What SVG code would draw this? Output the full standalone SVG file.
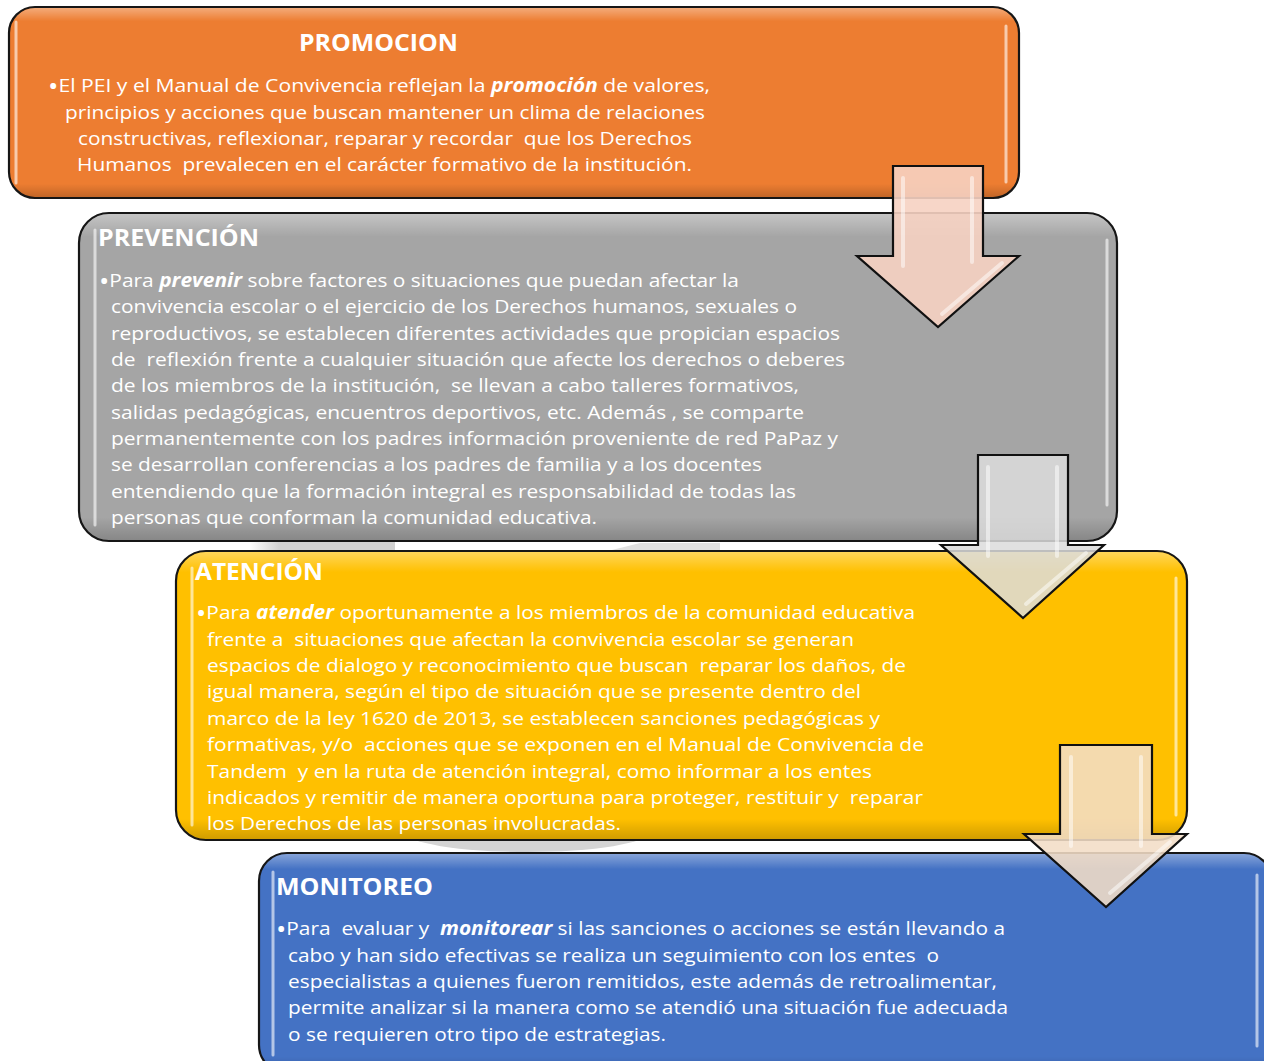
<svg xmlns="http://www.w3.org/2000/svg" width="1264" height="1061" viewBox="0 0 1264 1061">
<defs>
<style>
.box{stroke:#161616;stroke-width:2.2}
.t{font-family:"Open Sans","Liberation Sans",sans-serif;font-size:19px;fill:#ffffff;white-space:pre}
.h{font-family:"Open Sans","Liberation Sans",sans-serif;font-size:23px;font-weight:bold;fill:#ffffff}
.bi{font-weight:bold;font-style:italic}
.b{font-size:25px}
.hl{stroke:#ffffff;stroke-opacity:.6;stroke-width:3;stroke-linecap:round;fill:none}
.arr{stroke:#111111;stroke-width:2.2;stroke-linejoin:miter}
.ahl{stroke:#ffffff;stroke-opacity:.5;stroke-width:4;stroke-linecap:round;fill:none}
</style>
<linearGradient id="gloss" x1="0" y1="0" x2="0" y2="1">
<stop offset="0" stop-color="#ffffff" stop-opacity="0.35"/>
<stop offset="0.07" stop-color="#ffffff" stop-opacity="0"/>
<stop offset="0.93" stop-color="#000000" stop-opacity="0"/>
<stop offset="1" stop-color="#000000" stop-opacity="0.18"/>
</linearGradient>
<linearGradient id="refl" x1="0" y1="0" x2="1" y2="0">
<stop offset="0" stop-color="#d2d2d2" stop-opacity="0"/>
<stop offset="0.2" stop-color="#d2d2d2" stop-opacity="1"/>
<stop offset="1" stop-color="#d2d2d2" stop-opacity="1"/>
</linearGradient>
</defs>
<rect x="0" y="0" width="1264" height="1061" fill="#ffffff"/>

<g id="reflections">
<rect x="250" y="541" width="145" height="12" fill="url(#refl)"/>
<path d="M600,553 L640,543 L720,543 L720,553 Z" fill="#e0e0e0"/>
<ellipse cx="527" cy="832" rx="122" ry="20" fill="#d4d4d4"/>
</g>

<g id="promocion">
<rect class="box" x="9" y="7" width="1010" height="191" rx="26" fill="#ED7D31"/>
<rect x="10" y="8" width="1008" height="189" rx="25" fill="url(#gloss)"/>
<line class="hl" x1="16" y1="22" x2="16" y2="183" stroke="#ffe6a0"/>
<line class="hl" x1="1006" y1="26" x2="1006" y2="182"/>
<text class="h" x="299" y="51" textLength="159" lengthAdjust="spacingAndGlyphs">PROMOCION</text>
<text class="t" x="48" y="92" textLength="662" lengthAdjust="spacingAndGlyphs"><tspan class="b" dy="3">•</tspan><tspan dy="-3">El PEI y el Manual de Convivencia reflejan la </tspan><tspan class="bi">promoción</tspan> de valores,</text>
<text class="t" x="65" y="119" textLength="640" lengthAdjust="spacingAndGlyphs">principios y acciones que buscan mantener un clima de relaciones</text>
<text class="t" x="78" y="145" textLength="614" lengthAdjust="spacingAndGlyphs">constructivas, reflexionar, reparar y recordar  que los Derechos</text>
<text class="t" x="77" y="171" textLength="615" lengthAdjust="spacingAndGlyphs">Humanos  prevalecen en el carácter formativo de la institución.</text>
</g>

<g id="prevencion">
<rect class="box" x="79" y="213" width="1038" height="328" rx="30" fill="#A5A5A5"/>
<rect x="80" y="214" width="1036" height="326" rx="29" fill="url(#gloss)"/>
<line class="hl" x1="95" y1="230" x2="95" y2="525"/>
<line class="hl" x1="1107" y1="240" x2="1107" y2="505"/>
<text class="h" x="98" y="246" textLength="161" lengthAdjust="spacingAndGlyphs">PREVENCIÓN</text>
<text class="t" x="99" y="287" textLength="640" lengthAdjust="spacingAndGlyphs"><tspan class="b" dy="3">•</tspan><tspan dy="-3">Para </tspan><tspan class="bi">prevenir</tspan> sobre factores o situaciones que puedan afectar la</text>
<text class="t" x="111" y="313" textLength="686" lengthAdjust="spacingAndGlyphs">convivencia escolar o el ejercicio de los Derechos humanos, sexuales o</text>
<text class="t" x="111" y="340" textLength="729" lengthAdjust="spacingAndGlyphs">reproductivos, se establecen diferentes actividades que propician espacios</text>
<text class="t" x="111" y="366" textLength="734" lengthAdjust="spacingAndGlyphs">de  reflexión frente a cualquier situación que afecte los derechos o deberes</text>
<text class="t" x="111" y="392" textLength="688" lengthAdjust="spacingAndGlyphs">de los miembros de la institución,  se llevan a cabo talleres formativos,</text>
<text class="t" x="111" y="419" textLength="693" lengthAdjust="spacingAndGlyphs">salidas pedagógicas, encuentros deportivos, etc. Además , se comparte</text>
<text class="t" x="111" y="445" textLength="727" lengthAdjust="spacingAndGlyphs">permanentemente con los padres información proveniente de red PaPaz y</text>
<text class="t" x="111" y="471" textLength="651" lengthAdjust="spacingAndGlyphs">se desarrollan conferencias a los padres de familia y a los docentes</text>
<text class="t" x="111" y="498" textLength="685" lengthAdjust="spacingAndGlyphs">entendiendo que la formación integral es responsabilidad de todas las</text>
<text class="t" x="111" y="524" textLength="486" lengthAdjust="spacingAndGlyphs">personas que conforman la comunidad educativa.</text>
</g>

<g id="atencion">
<rect class="box" x="176" y="551" width="1011" height="289" rx="30" fill="#FFC000"/>
<rect x="177" y="552" width="1009" height="287" rx="29" fill="url(#gloss)"/>
<line class="hl" x1="192" y1="568" x2="192" y2="825" stroke="#fff2a0"/>
<line class="hl" x1="1176" y1="578" x2="1176" y2="815" stroke="#fff6b0"/>
<text class="h" x="195" y="580" textLength="128" lengthAdjust="spacingAndGlyphs">ATENCIÓN</text>
<text class="t" x="196" y="619" textLength="719" lengthAdjust="spacingAndGlyphs"><tspan class="b" dy="3">•</tspan><tspan dy="-3">Para </tspan><tspan class="bi">atender</tspan> oportunamente a los miembros de la comunidad educativa</text>
<text class="t" x="207" y="646" textLength="647" lengthAdjust="spacingAndGlyphs">frente a  situaciones que afectan la convivencia escolar se generan</text>
<text class="t" x="207" y="672" textLength="699" lengthAdjust="spacingAndGlyphs">espacios de dialogo y reconocimiento que buscan  reparar los daños, de</text>
<text class="t" x="207" y="698" textLength="654" lengthAdjust="spacingAndGlyphs">igual manera, según el tipo de situación que se presente dentro del</text>
<text class="t" x="207" y="725" textLength="673" lengthAdjust="spacingAndGlyphs">marco de la ley 1620 de 2013, se establecen sanciones pedagógicas y</text>
<text class="t" x="207" y="751" textLength="717" lengthAdjust="spacingAndGlyphs">formativas, y/o  acciones que se exponen en el Manual de Convivencia de</text>
<text class="t" x="207" y="778" textLength="665" lengthAdjust="spacingAndGlyphs">Tandem  y en la ruta de atención integral, como informar a los entes</text>
<text class="t" x="207" y="804" textLength="716" lengthAdjust="spacingAndGlyphs">indicados y remitir de manera oportuna para proteger, restituir y  reparar</text>
<text class="t" x="207" y="830" textLength="414" lengthAdjust="spacingAndGlyphs">los Derechos de las personas involucradas.</text>
</g>

<g id="monitoreo">
<rect class="box" x="259" y="853" width="1013" height="220" rx="28" fill="#4472C4"/>
<rect x="260" y="854" width="1011" height="218" rx="27" fill="url(#gloss)"/>
<line class="hl" x1="273" y1="872" x2="273" y2="1055" stroke="#cfe0ff"/>
<line class="hl" x1="1257" y1="875" x2="1257" y2="1046" stroke="#dfeaff"/>
<text class="h" x="276" y="895" textLength="157" lengthAdjust="spacingAndGlyphs">MONITOREO</text>
<text class="t" x="276" y="935" textLength="729" lengthAdjust="spacingAndGlyphs"><tspan class="b" dy="3">•</tspan><tspan dy="-3">Para  evaluar y  </tspan><tspan class="bi">monitorear</tspan> si las sanciones o acciones se están llevando a</text>
<text class="t" x="288" y="962" textLength="651" lengthAdjust="spacingAndGlyphs">cabo y han sido efectivas se realiza un seguimiento con los entes  o</text>
<text class="t" x="288" y="988" textLength="709" lengthAdjust="spacingAndGlyphs">especialistas a quienes fueron remitidos, este además de retroalimentar,</text>
<text class="t" x="288" y="1014" textLength="720" lengthAdjust="spacingAndGlyphs">permite analizar si la manera como se atendió una situación fue adecuada</text>
<text class="t" x="288" y="1041" textLength="378" lengthAdjust="spacingAndGlyphs">o se requieren otro tipo de estrategias.</text>
</g>

<g id="connectors">
<g id="arrow1">
<path class="arr" d="M893,166 H983 V256 H1019 L938,327 L857,256 H893 Z" fill="#F6D2C2" fill-opacity="0.9"/>
<line class="ahl" x1="903" y1="178" x2="903" y2="266"/>
<line class="ahl" x1="972" y1="178" x2="972" y2="262"/>
<line class="ahl" x1="1002" y1="263" x2="942" y2="314"/>
</g>
<g id="arrow2">
<path class="arr" d="M978,455 H1068 V545 H1104 L1023,618 L941,545 H978 Z" fill="#DCDCDC" fill-opacity="0.85"/>
<line class="ahl" x1="988" y1="467" x2="988" y2="556"/>
<line class="ahl" x1="1057" y1="467" x2="1057" y2="556"/>
<line class="ahl" x1="1086" y1="553" x2="1026" y2="604"/>
</g>
<g id="arrow3">
<path class="arr" d="M1060,745 H1152 V834 H1187 L1106,907 L1024,834 H1060 Z" fill="#F2DDC6" fill-opacity="0.88"/>
<line class="ahl" x1="1071" y1="757" x2="1071" y2="846"/>
<line class="ahl" x1="1141" y1="757" x2="1141" y2="846"/>
<line class="ahl" x1="1170" y1="842" x2="1110" y2="893"/>
</g>
</g>
</svg>
